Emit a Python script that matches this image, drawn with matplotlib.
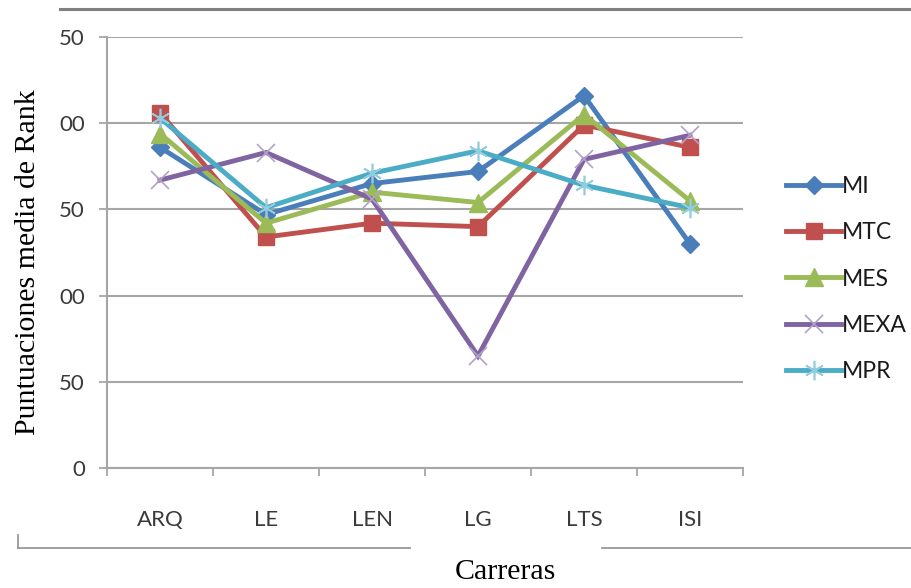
import matplotlib
matplotlib.use("Agg")
import matplotlib.pyplot as plt
from matplotlib.lines import Line2D

categories = ["ARQ", "LE", "LEN", "LG", "LTS", "ISI"]
mi = [186, 147, 165, 172, 216, 130]
mtc = [206, 134, 142, 140, 199, 186]
mes = [194, 142, 160, 154, 205, 155]
mexa = [167, 183, 156, 65, 179, 193]
mpr = [203, 151, 171, 184, 164, 151]
y_ticks = [0, 50, 100, 150, 200, 250]
y_tick_labels = ["0", "50", "00", "50", "00", "50"]

series = [
    ("MI", mi, "#4a7ebb", "D", 9.5, "#4a7ebb", 1),
    ("MTC", mtc, "#c0504d", "s", 11.5, "#c0504d", 1),
    ("MES", mes, "#9bbb59", "^", 12.5, "#9bbb59", 1),
    ("MEXA", mexa, "#8064a2", "x", 13, "#b3a2c7", 1.2),
    ("MPR", mpr, "#4bacc6", (6, 2, 0), 14, "#93cddd", 1.2),
]

tick_font = "Lato"
grey = "#a6a6a6"

fig = plt.figure(figsize=(9.11, 5.88), dpi=100)
ax = fig.add_axes([107 / 911, 1 - 468 / 588, 636 / 911, 431 / 588])

x = list(range(len(categories)))
for name, vals, color, marker, ms, mcolor, mew in series:
    ax.plot(x, vals, color=color, lw=3.5, marker=marker, markersize=ms,
            markerfacecolor=mcolor, markeredgecolor=mcolor, markeredgewidth=mew,
            label=name, solid_joinstyle="miter")

ax.set_xlim(-0.5, len(categories) - 0.5)
ax.set_ylim(0, 250)
ax.set_yticks(y_ticks)
ax.set_yticklabels(y_tick_labels, fontfamily=tick_font, fontsize=16, color="#3a3a3a")
ax.set_xticks(x)
ax.set_xticklabels(categories, fontfamily=tick_font, fontsize=16, color="#3a3a3a")
ax.set_xticks([i - 0.5 for i in range(len(categories) + 1)], minor=True)
ax.tick_params(axis="x", which="major", length=0, pad=30)
ax.tick_params(axis="x", which="minor", length=6, color=grey, width=1.3)
ax.tick_params(axis="y", length=6, color=grey, width=1.3, pad=10)

ax.yaxis.grid(True, color=grey, lw=1.5)
ax.set_axisbelow(True)
for s in ["top", "right"]:
    ax.spines[s].set_visible(False)
for s in ["left", "bottom"]:
    ax.spines[s].set_color(grey)
    ax.spines[s].set_linewidth(1.5)

leg = fig.legend(loc="center left", bbox_to_anchor=(777 / 911, 1 - 279 / 588),
                 frameon=False, handlelength=2.4, handletextpad=0.05,
                 labelspacing=1.1, borderaxespad=0,
                 prop={"family": tick_font, "size": 16.5})
for t in leg.get_texts():
    t.set_color("#1a1a1a")

fig.text(28 / 911, 1 - 262 / 588, "Puntuaciones media de Rank", rotation=90,
         ha="center", va="center", fontfamily="Liberation Serif", fontsize=21.5)
fig.text(505 / 911, 1 - 572 / 588, "Carreras", ha="center", va="center",
         fontfamily="Liberation Serif", fontsize=21.5)

# outer chart frame remnants
fig.add_artist(Line2D([60 / 911, 1], [1 - 9 / 588] * 2, color="#808080", lw=2.2))
fig.add_artist(Line2D([18 / 911, 410 / 911], [1 - 548 / 588] * 2, color="#999999", lw=1.3))
fig.add_artist(Line2D([602 / 911, 1], [1 - 548 / 588] * 2, color="#999999", lw=1.3))
fig.add_artist(Line2D([18 / 911] * 2, [1 - 535 / 588, 1 - 548 / 588], color="#999999", lw=1.3))

fig.savefig("out.png", dpi=100, facecolor="white")
